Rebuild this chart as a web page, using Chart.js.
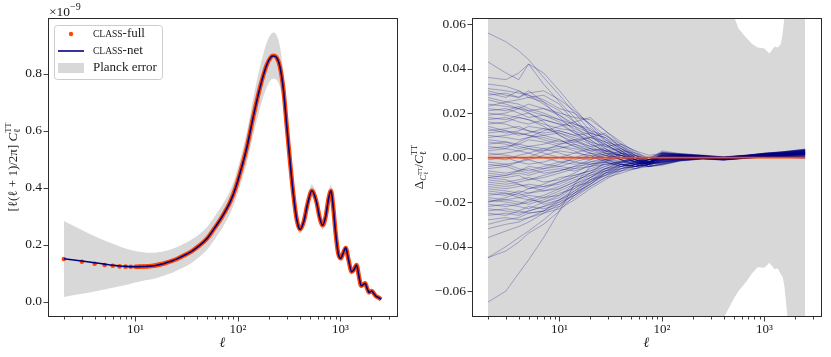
<!DOCTYPE html>
<html>
<head>
<meta charset="utf-8">
<script src="https://cdn.jsdelivr.net/npm/chart.js@4.4.1/dist/chart.umd.min.js"></script>
<style>
  html, body { margin: 0; padding: 0; background: #fff; }
  #wrap { position: relative; width: 831px; height: 357px; }
  #specChart { position: absolute; left: 0; top: 0; }
  #resChart { position: absolute; left: 400px; top: 0; }
</style>
</head>
<body>
<div id="wrap">
  <canvas id="specChart" width="415" height="357"></canvas>
  <canvas id="resChart" width="431" height="357"></canvas>
</div>
<script>
// --- spectrum (left panel), in units of 1e-9 ---
const clEll = [2, 3, 4, 5, 6, 7, 8, 9, 10, 11,
  12, 13, 14, 15, 16, 17, 18, 19, 20, 23,
  26, 30, 35, 42, 50, 57, 70, 84, 95, 105,
  122, 141, 164, 191, 210, 222, 239, 258, 278, 300,
  324, 349, 377, 405, 440, 480, 527, 580, 630, 671,
  720, 770, 811, 850, 900, 950, 1006, 1060, 1128, 1200,
  1290, 1360, 1437, 1520, 1596, 1670, 1747, 1830, 1913, 2030,
  2120, 2222, 2350, 2500];
const clFull = [0.150, 0.140, 0.133, 0.129, 0.126, 0.124, 0.123, 0.1225, 0.1225, 0.123,
  0.1235, 0.124, 0.125, 0.126, 0.128, 0.130, 0.132, 0.134, 0.137, 0.144,
  0.152, 0.163, 0.176, 0.197, 0.222, 0.250, 0.298, 0.350, 0.400, 0.452,
  0.540, 0.648, 0.750, 0.830, 0.858, 0.863, 0.856, 0.822, 0.745, 0.615,
  0.485, 0.372, 0.285, 0.254, 0.282, 0.345, 0.389, 0.355, 0.293, 0.268,
  0.300, 0.365, 0.389, 0.335, 0.240, 0.172, 0.152, 0.168, 0.189, 0.148,
  0.105, 0.113, 0.129, 0.088, 0.056, 0.060, 0.065, 0.046, 0.033, 0.0375,
  0.029, 0.020, 0.015, 0.0085];
const clNet = [0.151, 0.143, 0.137, 0.132, 0.128, 0.1255, 0.124, 0.123, 0.1228, 0.123,
  0.1235, 0.124, 0.125, 0.126, 0.128, 0.130, 0.132, 0.134, 0.137, 0.144,
  0.152, 0.163, 0.176, 0.197, 0.222, 0.250, 0.298, 0.350, 0.400, 0.452,
  0.540, 0.648, 0.750, 0.830, 0.858, 0.862, 0.856, 0.822, 0.745, 0.615,
  0.485, 0.372, 0.285, 0.254, 0.282, 0.345, 0.389, 0.355, 0.293, 0.268,
  0.300, 0.365, 0.389, 0.335, 0.240, 0.172, 0.152, 0.168, 0.189, 0.148,
  0.105, 0.113, 0.129, 0.088, 0.056, 0.060, 0.065, 0.046, 0.033, 0.0375,
  0.029, 0.020, 0.015, 0.0085];
// half width of the Planck error band
const clErr = [0.133, 0.112, 0.097, 0.086, 0.077, 0.070, 0.064, 0.059, 0.055, 0.052,
  0.050, 0.048, 0.047, 0.046, 0.045, 0.044, 0.043, 0.043, 0.042, 0.042,
  0.041, 0.041, 0.041, 0.040, 0.040, 0.040, 0.040, 0.040, 0.042, 0.046,
  0.054, 0.064, 0.072, 0.078, 0.080, 0.081, 0.078, 0.070, 0.058, 0.046,
  0.035, 0.026, 0.019, 0.015, 0.016, 0.019, 0.022, 0.019, 0.016, 0.015,
  0.016, 0.020, 0.021, 0.017, 0.012, 0.009, 0.0075, 0.008, 0.009, 0.007,
  0.0053, 0.006, 0.0065, 0.0045, 0.0032, 0.0035, 0.004, 0.003, 0.0025, 0.003,
  0.0025, 0.002, 0.002, 0.002];

// --- relative differences (right panel) ---
const resEll = [2, 3, 4, 5, 7, 10, 14, 20, 28, 40, 55, 75, 100, 150, 250, 400, 700, 1000, 1500, 2500];
const resDiffs = [
  [.056, .052, .048, .044, .036, .028, .020, .012, .006, .002, -.001, -.002, -.001, .0005, .0003, -.0006, .0004, .0012, .0015, .0022],
  [.043, .038, .035, .042, .038, .030, .022, .014, .007, .003, .000, -.002, .002, .0012, .0006, -.0002, .0007, .0016, .0022, .0032],
  [.036, .035, .038, .042, .033, .025, .018, .010, .004, .001, -.002, -.003, -.002, -.0008, .0000, -.0009, .0000, .0005, .0007, .0009],
  [.031, .030, .029, .028, .026, .022, .020, .015, .008, .004, .001, -.001, .001, .0015, .0008, .0001, .0011, .0019, .0025, .0036],
  [.028, .029, .027, .030, .025, .018, .012, .009, .006, .002, -.003, -.002, -.003, -.0012, -.0005, -.0011, -.0002, .0003, .0004, .0002],
  [.027, .025, .026, .027, .028, .024, .016, .010, .005, .006, .001, -.001, .003, .0018, .0011, .0004, .0010, .0014, .0019, .0027],
  [.024, .023, .022, .020, .017, .015, .014, .011, .009, .003, -.001, -.003, -.0015, -.0004, .0001, -.0007, .0003, .0009, .0012, .0019],
  [.022, .021, .023, .021, .019, .016, .011, .008, .004, .000, -.002, -.001, .000, .0006, .0004, -.0003, .0006, .0010, .0013, .0020],
  [.020, .019, .018, .017, .015, .013, .012, .006, .003, .004, .001, -.002, .0015, .0010, .0002, -.0005, .0005, .0012, .0016, .0025],
  [.018, .017, .019, .020, .016, .010, .006, .004, .002, -.001, -.003, -.002, -.002, -.0010, -.0003, -.0008, .0001, .0006, .0008, .0011],
  [.016, .015, .013, .012, .011, .012, .010, .007, .002, .001, .000, -.001, .0025, .0014, .0007, .0000, .0009, .0015, .0021, .0030],
  [.014, .012, .011, .010, .009, .007, .008, .005, .006, .002, -.002, -.004, -.0025, -.0013, -.0004, -.0010, -.0001, .0004, .0006, .0005],
  [.012, .013, .014, .012, .010, .008, .005, .003, .004, .000, -.001, -.003, .0005, .0003, .0005, -.0002, .0007, .0013, .0017, .0026],
  [.010, .009, .008, .009, .010, .011, .009, .006, .003, .002, .000, .000, .0018, .0016, .0009, .0002, .0012, .0020, .0026, .0038],
  [.008, .007, .006, .008, .007, .005, .004, .002, -.001, -.002, -.003, -.004, -.0035, -.0016, -.0007, -.0012, -.0003, .0001, .0002, -.0004],
  [.006, .007, .005, .004, .003, .004, .006, .003, .001, -.001, -.002, -.002, .000, .0004, .0001, -.0005, .0005, .0010, .0014, .0021],
  [.004, .005, .006, .005, .004, .002, .000, -.001, .002, .001, -.001, -.003, -.001, -.0002, .0003, -.0004, .0006, .0011, .0013, .0018],
  [.002, .001, .000, -.001, .001, .003, .002, .001, -.002, -.003, -.004, -.003, -.002, -.0011, -.0006, -.0009, -.0001, .0004, .0005, .0006],
  [.000, -.001, .001, .002, .000, -.002, -.001, .001, .000, -.002, -.003, -.002, .001, .0009, .0003, -.0003, .0008, .0014, .0018, .0028],
  [-.002, -.003, -.002, -.001, -.003, -.004, -.002, .000, .003, .001, -.001, -.002, -.0005, .0001, .0002, -.0006, .0003, .0008, .0011, .0016],
  [-.004, -.003, -.005, -.006, -.004, -.002, -.003, -.002, -.001, -.003, -.004, -.003, -.0018, -.0007, -.0002, -.0007, .0002, .0006, .0009, .0012],
  [-.006, -.007, -.006, -.005, -.007, -.006, -.004, -.003, -.001, .000, -.002, -.003, .0012, .0011, .0005, -.0001, .0009, .0017, .0023, .0033],
  [-.008, -.009, -.008, -.010, -.009, -.007, -.005, -.004, -.003, -.002, -.003, -.004, -.003, -.0014, -.0005, -.0010, -.0002, .0002, .0003, .0000],
  [-.010, -.011, -.010, -.009, -.011, -.010, -.007, -.003, -.002, -.004, -.002, -.001, .002, .0013, .0007, .0001, .0010, .0018, .0024, .0034],
  [-.012, -.013, -.012, -.014, -.012, -.009, -.008, -.006, -.004, -.001, -.003, -.002, -.0005, .0000, .0002, -.0005, .0004, .0009, .0012, .0018],
  [-.014, -.015, -.016, -.014, -.013, -.012, -.009, -.005, -.003, -.002, -.001, -.003, -.0012, -.0005, -.0001, -.0007, .0002, .0007, .0010, .0014],
  [-.016, -.017, -.015, -.016, -.015, -.013, -.010, -.008, -.005, -.003, -.004, -.002, .0008, .0008, .0005, -.0002, .0008, .0013, .0017, .0024],
  [-.018, -.019, -.018, -.017, -.018, -.015, -.012, -.009, -.006, -.004, -.002, -.003, -.0022, -.0009, -.0003, -.0008, .0001, .0005, .0007, .0008],
  [-.020, -.019, -.020, -.021, -.019, -.016, -.014, -.010, -.007, -.003, -.004, -.003, .0004, .0006, .0004, -.0003, .0006, .0012, .0016, .0023],
  [-.022, -.021, -.022, -.023, -.020, -.018, -.013, -.011, -.006, -.005, -.003, -.002, -.0008, -.0002, .0001, -.0006, .0004, .0009, .0011, .0017],
  [-.024, -.023, -.024, -.025, -.024, -.020, -.015, -.010, -.008, -.004, -.005, -.003, .0016, .0012, .0006, .0000, .0009, .0016, .0021, .0031],
  [-.025, -.026, -.024, -.022, -.023, -.021, -.016, -.012, -.007, -.006, -.003, -.004, -.0028, -.0013, -.0005, -.0010, -.0001, .0003, .0004, .0003],
  [-.030, -.028, -.027, -.025, -.024, -.022, -.018, -.013, -.009, -.005, -.004, -.002, .0002, .0004, .0003, -.0004, .0005, .0010, .0014, .0020],
  [-.036, -.033, -.031, -.029, -.025, -.021, -.017, -.012, -.007, -.004, -.003, -.002, -.0006, .0000, .0002, -.0005, .0005, .0010, .0013, .0019],
  [-.045, -.040, -.036, -.033, -.028, -.022, -.016, -.010, -.006, -.003, -.002, -.003, .0010, .0009, .0004, -.0002, .0007, .0013, .0018, .0027],
  [-.045, -.042, -.038, -.034, -.030, -.024, -.017, -.011, -.007, -.005, -.004, -.002, -.0016, -.0006, -.0001, -.0007, .0002, .0007, .0009, .0013],
  [-.065, -.060, -.052, -.046, -.036, -.024, -.012, -.004, -.001, .001, -.002, -.003, .0006, .0005, .0003, -.0004, .0006, .0011, .0015, .0022],
  [.030, .028, .027, .029, .030, .026, .021, .015, .010, .005, .002, .000, .0022, .0017, .0010, .0003, .0011, .0019, .0026, .0037],
  [.026, .024, .022, .021, .022, .020, .018, .017, .012, .006, .003, -.001, -.0012, -.0003, .0001, -.0006, .0003, .0008, .0010, .0015],
  [.005, .004, .007, .009, .012, .014, .016, .018, .012, .007, .002, -.002, .0003, .0007, .0004, -.0003, .0007, .0012, .0016, .0024],
  [-.003, -.004, -.002, .000, .003, .006, .008, .009, .011, .004, .000, -.003, -.0025, -.0011, -.0004, -.0009, -.0001, .0004, .0005, .0004],
  [.015, .016, .018, .017, .014, .010, .007, .009, .007, .003, -.001, -.004, -.0004, .0002, .0002, -.0005, .0004, .0009, .0012, .0018],
  [-.009, -.010, -.012, -.013, -.015, -.014, -.011, -.007, -.002, .002, .001, -.002, .0014, .0013, .0007, .0001, .0010, .0017, .0022, .0032],
  [.019, .020, .022, .024, .022, .019, .014, .008, .003, -.001, -.004, -.004, -.0032, -.0015, -.0006, -.0011, -.0002, .0002, .0003, -.0002],
  [-.020, -.018, -.016, -.018, -.021, -.019, -.015, -.011, -.008, -.006, -.005, -.003, .0007, .0008, .0005, -.0002, .0008, .0014, .0019, .0028],
  [.029, .027, .030, .028, .024, .019, .015, .012, .010, .006, .003, .001, .0019, .0012, .0006, .0000, .0009, .0015, .0020, .0029],
  [.023, .025, .024, .022, .020, .017, .013, .010, .007, .005, .000, -.002, -.0009, -.0003, .0002, -.0005, .0004, .0009, .0012, .0017],
  [.017, .018, .016, .015, .017, .015, .011, .007, .005, .003, .002, -.001, .0011, .0009, .0004, -.0002, .0008, .0014, .0018, .0027],
  [.013, .011, .012, .014, .013, .011, .008, .004, .001, .003, -.001, -.003, -.0019, -.0008, -.0002, -.0008, .0001, .0006, .0007, .0010],
  [.009, .010, .011, .010, .008, .006, .007, .005, .002, -.001, -.002, -.001, .0006, .0006, .0003, -.0004, .0006, .0012, .0015, .0023],
  [.007, .006, .004, .005, .006, .008, .005, .002, .000, .001, -.001, -.002, -.0011, -.0004, .0000, -.0006, .0003, .0008, .0011, .0014],
  [.003, .004, .003, .002, .004, .005, .003, .000, -.001, -.003, -.004, -.003, .0024, .0016, .0009, .0002, .0011, .0019, .0025, .0036],
  [.001, .002, .003, .004, .002, .000, -.002, -.003, -.002, .000, .001, -.001, -.0004, .0001, .0002, -.0005, .0005, .0010, .0013, .0019],
  [-.001, .000, -.002, -.003, -.002, .000, .002, .004, .003, .001, -.002, -.004, -.003, -.0014, -.0006, -.0010, -.0002, .0003, .0003, .0001],
  [-.005, -.004, -.006, -.004, -.005, -.003, .000, .002, .001, -.001, -.003, -.002, .0009, .0010, .0005, -.0002, .0008, .0014, .0019, .0028],
  [-.007, -.008, -.007, -.008, -.006, -.005, -.006, -.004, -.002, -.004, -.003, -.001, -.0014, -.0005, .0000, -.0007, .0003, .0007, .0009, .0013],
  [-.011, -.012, -.011, -.010, -.008, -.006, -.004, -.001, .001, .000, -.002, -.003, .0003, .0005, .0003, -.0004, .0006, .0011, .0014, .0021],
  [-.013, -.014, -.013, -.012, -.013, -.011, -.009, -.007, -.005, -.002, .000, -.002, -.0021, -.0009, -.0003, -.0008, .0001, .0005, .0006, .0007],
  [-.015, -.016, -.017, -.016, -.014, -.011, -.008, -.006, -.003, -.003, -.005, -.004, .0017, .0013, .0007, .0000, .0010, .0017, .0023, .0033],
  [-.017, -.016, -.018, -.019, -.017, -.014, -.011, -.007, -.004, -.002, -.001, -.002, -.0007, -.0001, .0002, -.0005, .0004, .0009, .0012, .0017],
  [-.019, -.020, -.021, -.020, -.018, -.017, -.013, -.009, -.005, -.004, -.002, -.001, .0012, .0010, .0005, -.0001, .0009, .0015, .0020, .0030],
  [-.021, -.022, -.021, -.019, -.020, -.017, -.012, -.008, -.006, -.003, -.004, -.003, -.0017, -.0007, -.0002, -.0008, .0002, .0006, .0008, .0011],
  [-.023, -.024, -.025, -.024, -.022, -.019, -.016, -.012, -.008, -.005, -.003, -.001, .0005, .0007, .0004, -.0003, .0007, .0012, .0016, .0024],
  [-.026, -.025, -.026, -.024, -.022, -.020, -.017, -.013, -.009, -.007, -.005, -.003, -.0010, -.0003, .0001, -.0006, .0003, .0008, .0010, .0015],
  [-.028, -.027, -.028, -.027, -.025, -.023, -.019, -.014, -.010, -.006, -.004, -.002, .0020, .0014, .0008, .0001, .0010, .0018, .0024, .0034],
  [.021, .022, .020, .018, .019, .017, .015, .013, .008, .004, .000, -.002, -.0024, -.0010, -.0003, -.0009, .0000, .0005, .0006, .0006],
  [.011, .012, .010, .011, .013, .012, .010, .011, .009, .005, .001, -.002, .0008, .0008, .0004, -.0003, .0007, .0013, .0017, .0025],
  [-.009, -.008, -.006, -.007, -.005, -.004, -.005, -.002, .000, .002, .000, -.003, -.0013, -.0005, .0000, -.0006, .0003, .0008, .0010, .0014],
  [.033, .032, .030, .027, .025, .021, .016, .011, .005, .002, -.001, -.003, .0016, .0012, .0006, .0000, .0009, .0016, .0021, .0031],
  [-.032, -.030, -.029, -.027, -.024, -.019, -.014, -.009, -.005, -.002, -.001, -.002, -.0003, .0002, .0002, -.0005, .0005, .0010, .0013, .0019]
];
const zeroEll = [2, 2500];
const zeroDiff = [0, 0];
// Planck error relative to the spectrum
const bandEll = [2, 300, 407, 509, 560, 660, 760, 860, 1000, 1120, 1260, 1350, 1450, 1510, 1570, 1620, 1680, 1800, 2500];
const bandUp = [0.6, 0.12, 0.085, 0.063, 0.058, 0.054, 0.051, 0.0495, 0.049, 0.0468, 0.0499, 0.0495, 0.051, 0.056, 0.063, 0.085, 0.11, 0.16, 0.5];
const bandLo = [-0.6, -0.12, -0.0715, -0.063, -0.060, -0.056, -0.052, -0.0493, -0.0495, -0.0473, -0.0502, -0.0497, -0.0525, -0.0537, -0.058, -0.064, -0.0715, -0.1, -0.5];

// ticks
const xMajor = [10, 100, 1000];
const xMajorText = ["10¹", "10²", "10³"];
const specYTicks = [0, 0.2, 0.4, 0.6, 0.8];
const resYTicks = [-0.06, -0.04, -0.02, 0, 0.02, 0.04, 0.06];

const serif = "'Liberation Serif', 'DejaVu Serif', serif";
const ink = "#1a1a1a";
const bandGrey = "#d8d8d8";
const orange = "#ff4500";
const navy = "#000080";

function zip(xs, ys) {
  return xs.map((x, i) => ({ x: x, y: ys[i] }));
}

function logTickList() {
  const out = [];
  [1, 10, 100, 1000].forEach((d) => {
    for (let m = 1; m <= 9; m++) out.push(m * d);
  });
  return out.filter((v) => v >= 2 && v <= 3000);
}

function isDecade(v) {
  const l = Math.log10(v);
  return Math.abs(l - Math.round(l)) < 1e-9;
}

function xScale() {
  return {
    type: "logarithmic",
    min: 1.40,
    max: 3573,
    afterBuildTicks: (s) => {
      s.ticks = logTickList().map((v) => ({ value: v }));
    },
    afterFit: (s) => {
      s.height = 41;
    },
    ticks: {
      autoSkip: false,
      maxRotation: 0,
      padding: 6,
      color: ink,
      font: { family: serif, size: 13 },
      callback: (v) => {
        const i = xMajor.indexOf(v);
        return i >= 0 ? xMajorText[i] : "";
      },
    },
    grid: { display: false, drawTicks: false },
    border: { display: false },
  };
}

// small helper for math-like labels
function runFont(r) {
  return (r.it ? "italic " : "") + r.s + "px " + serif;
}
function drawRuns(ctx, runs, cx, cy, angle, align) {
  let x = 0, start = 0, w0 = 0;
  const placed = [];
  runs.forEach((r) => {
    ctx.font = runFont(r);
    const w = ctx.measureText(r.t).width;
    if (r.stack) {
      placed.push({ r: r, x: start });
      w0 = Math.max(w0, w);
      x = start + w0;
    } else {
      start = x;
      w0 = w;
      placed.push({ r: r, x: x });
      x += w;
    }
  });
  const off = align === "left" ? 0 : -x / 2;
  ctx.save();
  ctx.translate(cx, cy);
  ctx.rotate(angle);
  ctx.fillStyle = ink;
  ctx.textAlign = "left";
  ctx.textBaseline = "alphabetic";
  placed.forEach((p) => {
    ctx.font = runFont(p.r);
    ctx.fillText(p.r.t, off + p.x, p.r.dy || 0);
  });
  ctx.restore();
}

// frame + outward tick marks (matplotlib look)
const frameTicks = {
  id: "frameTicks",
  afterDraw(chart) {
    const { ctx, chartArea: a, scales } = chart;
    ctx.save();
    ctx.strokeStyle = "#2b2b2b";
    ctx.lineWidth = 1;
    ctx.strokeRect(Math.round(a.left) + 0.5, Math.round(a.top) + 0.5,
      Math.round(a.right - a.left), Math.round(a.bottom - a.top));
    ctx.lineWidth = 0.9;
    ctx.beginPath();
    scales.x.ticks.forEach((t) => {
      const px = Math.round(scales.x.getPixelForValue(t.value)) + 0.5;
      const len = isDecade(t.value) ? 5 : 3;
      ctx.moveTo(px, Math.round(a.bottom) + 0.5);
      ctx.lineTo(px, Math.round(a.bottom) + 0.5 + len);
    });
    scales.y.ticks.forEach((t) => {
      const py = Math.round(scales.y.getPixelForValue(t.value)) + 0.5;
      ctx.moveTo(Math.round(a.left) + 0.5, py);
      ctx.lineTo(Math.round(a.left) + 0.5 - 5, py);
    });
    ctx.stroke();
    ctx.fillStyle = ink;
    ctx.font = "italic 14px " + serif;
    ctx.textAlign = "center";
    ctx.textBaseline = "middle";
    ctx.fillText("ℓ", (a.left + a.right) / 2, 343);
    ctx.restore();
  },
};

// left panel extras: offset text, y title, legend
const specExtras = {
  id: "specExtras",
  afterDraw(chart) {
    const ctx = chart.ctx;
    drawRuns(ctx, [{ t: "×10", s: 13.5 }, { t: "−9", s: 10, dy: -6 }], 49, 16, 0, "left");
    drawRuns(ctx, [
      { t: "[ℓ(ℓ + 1)/2π] ", s: 13 },
      { t: "C", s: 13, it: true },
      { t: "ℓ", s: 9, dy: 3 },
      { t: "TT", s: 8.5, dy: -6, stack: true },
    ], 17, 167, -Math.PI / 2);

    // legend box
    ctx.save();
    ctx.fillStyle = "rgba(255,255,255,0.85)";
    ctx.strokeStyle = "#cccccc";
    ctx.lineWidth = 1;
    ctx.beginPath();
    ctx.roundRect(54.5, 25.5, 108, 54, 3);
    ctx.fill();
    ctx.stroke();
    ctx.fillStyle = orange;
    ctx.beginPath();
    ctx.arc(71, 34, 2.2, 0, Math.PI * 2);
    ctx.fill();
    ctx.strokeStyle = navy;
    ctx.lineWidth = 1.6;
    ctx.beginPath();
    ctx.moveTo(58, 51);
    ctx.lineTo(84, 51);
    ctx.stroke();
    ctx.fillStyle = bandGrey;
    ctx.fillRect(58, 63, 26, 10);
    ctx.fillStyle = ink;
    ctx.textBaseline = "middle";
    ctx.textAlign = "left";
    const rows = [["CLASS", "-full", 34], ["CLASS", "-net", 51]];
    rows.forEach((r) => {
      ctx.font = "9.5px " + serif;
      ctx.fillText(r[0], 93, r[2] + 0.5);
      const w = ctx.measureText(r[0]).width;
      ctx.font = "13px " + serif;
      ctx.fillText(r[1], 93 + w, r[2]);
    });
    ctx.font = "13px " + serif;
    ctx.fillText("Planck error", 93, 68);
    ctx.restore();
  },
};

const resExtras = {
  id: "resExtras",
  afterDraw(chart) {
    drawRuns(chart.ctx, [
      { t: "Δ", s: 13 },
      { t: "C", s: 9, it: true, dy: 3 },
      { t: "ℓ", s: 6.5, dy: 5 },
      { t: "TT", s: 6, dy: -1, stack: true },
      { t: "/", s: 13 },
      { t: "C", s: 13, it: true },
      { t: "ℓ", s: 9, dy: 3 },
      { t: "TT", s: 8.5, dy: -6, stack: true },
    ], 23, 167, -Math.PI / 2);
  },
};

const common = {
  responsive: false,
  animation: false,
  events: [],
  plugins: { legend: { display: false }, tooltip: { enabled: false } },
};

// Левая панель: спектр
new Chart(document.getElementById("specChart").getContext("2d"), {
  type: "line",
  data: {
    datasets: [
      {
        data: zip(clEll, clNet),
        borderColor: navy,
        borderWidth: 1.6,
        pointRadius: 0,
        cubicInterpolationMode: "monotone",
        order: 0,
      },
      {
        data: zip(clEll, clFull),
        borderColor: orange,
        borderWidth: 4.4,
        pointRadius: (c) => (c.raw && c.raw.x <= 19 ? 2.3 : 0),
        pointBackgroundColor: orange,
        pointBorderWidth: 0,
        segment: {
          borderColor: (c) => (c.p0.parsed.x < 10 ? "rgba(0,0,0,0)" : orange),
        },
        cubicInterpolationMode: "monotone",
        order: 1,
      },
      {
        data: zip(clEll, clFull.map((v, i) => v + clErr[i])),
        fill: "+1",
        backgroundColor: bandGrey,
        borderWidth: 0,
        pointRadius: 0,
        cubicInterpolationMode: "monotone",
        order: 2,
      },
      {
        data: zip(clEll, clFull.map((v, i) => v - clErr[i])),
        fill: false,
        borderWidth: 0,
        pointRadius: 0,
        cubicInterpolationMode: "monotone",
        order: 3,
      },
    ],
  },
  options: Object.assign({}, common, {
    layout: { padding: { left: 0, top: 18, right: 18, bottom: 0 } },
    scales: {
      x: xScale(),
      y: {
        min: -0.05,
        max: 0.995,
        afterBuildTicks: (s) => {
          s.ticks = specYTicks.map((v) => ({ value: v }));
        },
        afterFit: (s) => {
          s.width = 48;
        },
        ticks: {
          padding: 6,
          color: ink,
          font: { family: serif, size: 13.5 },
          callback: (v) => v.toFixed(1),
        },
        grid: { display: false, drawTicks: false },
        border: { display: false },
      },
    },
  }),
  plugins: [frameTicks, specExtras],
});

// Правая панель: относительные отклонения
const resSets = [
  {
    data: zip(zeroEll, zeroDiff),
    borderColor: orange,
    borderWidth: 1.8,
    pointRadius: 0,
    order: 0,
  },
];
resDiffs.forEach((line) => {
  resSets.push({
    data: zip(resEll, line),
    borderColor: "rgba(0,0,128,0.28)",
    borderWidth: 1,
    pointRadius: 0,
    tension: 0,
    order: 1,
  });
});
resSets.push(
  {
    data: zip(bandEll, bandUp),
    fill: "+1",
    backgroundColor: bandGrey,
    borderWidth: 0,
    pointRadius: 0,
    order: 2,
  },
  {
    data: zip(bandEll, bandLo),
    fill: false,
    borderWidth: 0,
    pointRadius: 0,
    order: 3,
  }
);

new Chart(document.getElementById("resChart").getContext("2d"), {
  type: "line",
  data: { datasets: resSets },
  options: Object.assign({}, common, {
    layout: { padding: { left: 0, top: 18, right: 10, bottom: 0 } },
    scales: {
      x: xScale(),
      y: {
        min: -0.0712,
        max: 0.0627,
        afterBuildTicks: (s) => {
          s.ticks = resYTicks.map((v) => ({ value: v }));
        },
        afterFit: (s) => {
          s.width = 72;
        },
        ticks: {
          padding: 6,
          color: ink,
          font: { family: serif, size: 13.5 },
          callback: (v) => (v < -1e-9 ? "−" : "") + Math.abs(v).toFixed(2),
        },
        grid: { display: false, drawTicks: false },
        border: { display: false },
      },
    },
  }),
  plugins: [frameTicks, resExtras],
});
</script>
</body>
</html>
